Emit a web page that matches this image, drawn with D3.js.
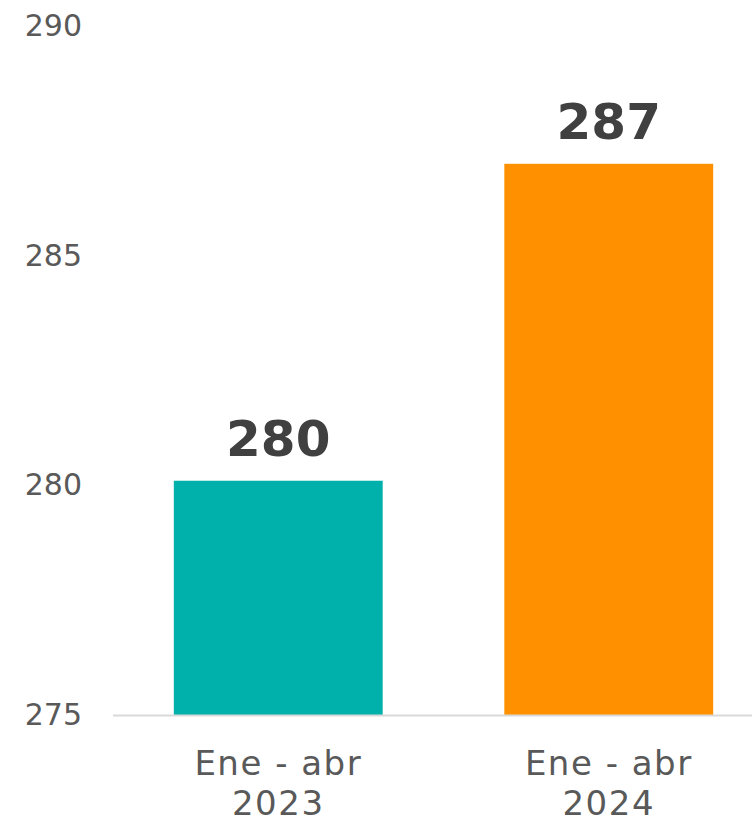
<!DOCTYPE html>
<html lang="es">
<head>
  <meta charset="UTF-8">
  <script src="https://d3js.org/d3.v7.min.js"></script>
  <title></title>
  <style>
    body { margin: 0; background: #fff; }
    text { font-family: 'DejaVu Sans', sans-serif; }
  </style>
</head>
<body>
  <script>
    var width = 752, height = 824;

    var categories = [['Ene - abr', '2023'], ['Ene - abr', '2024']];
    var values = [280.1, 287];
    var labels = ['280', '287'];
    var colors = ['#00b0aa', '#ff9100'];
    var yTicks = [275, 280, 285, 290];

    var svg = d3.select('body')
      .append('svg')
      .attr('width', width)
      .attr('height', height);

    var x = d3.scaleBand()
      .domain(d3.range(values.length))
      .range([113, 774])
      .paddingInner(0.368)
      .paddingOuter(0.184);

    var y = d3.scaleLinear()
      .domain([275, 290])
      .range([715, 26]);

    // y axis labels only
    var yAxis = svg.append('g')
      .attr('transform', 'translate(82,0)')
      .call(d3.axisLeft(y).tickValues(yTicks).tickSize(0).tickPadding(0));
    yAxis.select('.domain').remove();
    yAxis.selectAll('text')
      .attr('fill', '#595959')
      .style('font-size', '30px')
      .style('font-family', "'DejaVu Sans', sans-serif");

    // bars
    svg.selectAll('rect.bar')
      .data(values)
      .enter().append('rect')
        .attr('class', 'bar')
        .attr('x', function(d, i) { return x(i); })
        .attr('y', function(d) { return y(d); })
        .attr('width', x.bandwidth())
        .attr('height', function(d) { return y(275) - y(d); })
        .attr('fill', function(d, i) { return colors[i]; });

    // baseline
    svg.append('line')
      .attr('x1', 113).attr('x2', 774)
      .attr('y1', y(275) + 0.5).attr('y2', y(275) + 0.5)
      .attr('stroke', '#d9d9d9')
      .attr('stroke-width', 2);

    // value labels
    svg.selectAll('text.value')
      .data(values)
      .enter().append('text')
        .attr('class', 'value')
        .attr('x', function(d, i) { return x(i) + x.bandwidth() / 2; })
        .attr('y', function(d) { return y(d) - 25; })
        .attr('text-anchor', 'middle')
        .attr('fill', '#404040')
        .style('font-size', '50px')
        .style('font-weight', 'bold')
        .text(function(d, i) { return labels[i]; });

    // category labels
    var cat = svg.selectAll('text.cat')
      .data(categories)
      .enter().append('text')
        .attr('class', 'cat')
        .attr('text-anchor', 'middle')
        .attr('fill', '#595959')
        .attr('letter-spacing', '1.5')
        .style('font-size', '34px');
    cat.selectAll('tspan')
      .data(function(d, i) { return d.map(function(s) { return {s: s, i: i}; }); })
      .enter().append('tspan')
        .attr('x', function(d) { return x(d.i) + x.bandwidth() / 2; })
        .attr('y', function(d, j) { return 775 + j * 40; })
        .text(function(d) { return d.s; });
  </script>
</body>
</html>
